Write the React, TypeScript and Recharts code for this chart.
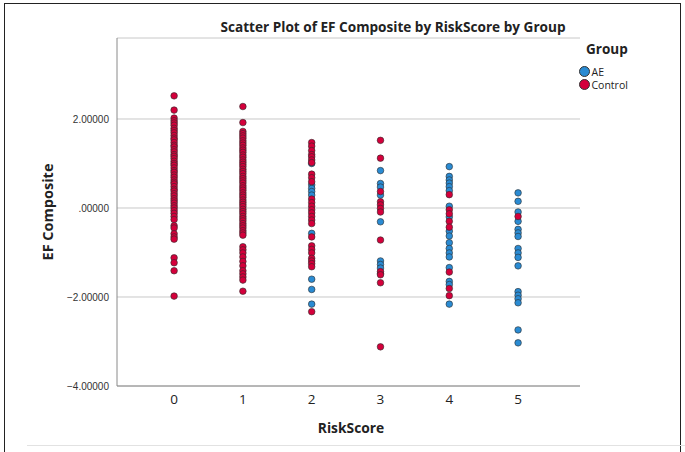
import React from "react";
import { ScatterChart, Scatter, XAxis, YAxis, CartesianGrid } from "recharts";

const riskScores = [0, 1, 2, 3, 4, 5];
const yTicks = [-4, -2, 0, 2];

// AE group values per RiskScore
const ae0: number[] = [];
const ae1: number[] = [];
const ae2 = [1.0, 0.52, 0.44, 0.37, 0.29, -0.57, -1.6, -1.83, -2.16];
const ae3 = [0.84, 0.55, 0.47, 0.29, -0.31, -1.19, -1.27, -1.35, -1.47];
const ae4 = [0.93, 0.71, 0.63, 0.56, 0.48, 0.39, 0.04, -0.2, -0.52, -0.63, -0.78, -0.91, -1.01, -1.1, -1.34, -1.65, -1.72, -2.16];
const ae5 = [0.34, 0.15, -0.09, -0.3, -0.48, -0.56, -0.64, -0.91, -1.01, -1.11, -1.3, -1.88, -1.96, -2.04, -2.13, -2.74, -3.03];

// Control group values per RiskScore
const ctl0 = [2.52, 2.2, 2.02, 1.96, 1.91, 1.86, 1.79, 1.74, 1.69, 1.63, 1.57, 1.53, 1.47, 1.41, 1.37, 1.31, 1.26, 1.2, 1.16, 1.11, 1.05, 1.0, 0.96, 0.9, 0.84, 0.8, 0.74, 0.69, 0.63, 0.58, 0.54, 0.48, 0.42, 0.38, 0.32, 0.27, 0.21, 0.16, 0.11, 0.05, 0.0, -0.06, -0.12, -0.19, -0.26, -0.4, -0.45, -0.58, -0.65, -0.7, -1.12, -1.23, -1.41, -1.98];
const ctl1 = [2.28, 1.92, 1.72, 1.67, 1.62, 1.57, 1.51, 1.46, 1.41, 1.35, 1.3, 1.25, 1.19, 1.14, 1.08, 1.03, 0.98, 0.93, 0.87, 0.82, 0.77, 0.71, 0.66, 0.61, 0.56, 0.5, 0.45, 0.4, 0.34, 0.29, 0.24, 0.18, 0.13, 0.08, 0.03, -0.03, -0.08, -0.13, -0.19, -0.24, -0.29, -0.35, -0.4, -0.45, -0.51, -0.56, -0.61, -0.87, -0.94, -1.01, -1.1, -1.2, -1.3, -1.41, -1.48, -1.55, -1.62, -1.87];
const ctl2 = [1.47, 1.39, 1.29, 1.2, 1.15, 1.08, 1.02, 0.76, 0.68, 0.59, 0.2, 0.12, 0.04, -0.04, -0.11, -0.19, -0.27, -0.35, -0.65, -0.85, -0.93, -1.01, -1.13, -1.19, -1.25, -1.32, -2.33];
const ctl3 = [1.52, 1.12, 0.37, 0.14, 0.07, -0.01, -0.09, -0.72, -1.43, -1.5, -1.68, -3.12];
const ctl4 = [0.3, -0.04, -0.13, -0.3, -0.43, -1.44, -1.81, -1.97];
const ctl5 = [-0.19];

const aeByScore = [ae0, ae1, ae2, ae3, ae4, ae5];
const ctlByScore = [ctl0, ctl1, ctl2, ctl3, ctl4, ctl5];

const toPoints = (groups: number[][]) =>
  riskScores.flatMap((s, i) => groups[i].map((v) => ({ x: s, y: v })));

const aeData = toPoints(aeByScore);
const ctlData = toPoints(ctlByScore);

const AE_COLOR = "#2a8bd3";
const CTL_COLOR = "#d4003b";

const makeDot = (fill: string) => (p: any) =>
  p.cx == null ? null : (
    <circle cx={p.cx} cy={p.cy} r={3.3} fill={fill} stroke="#2b2b2b" strokeWidth={0.6} />
  );

const fmtY = (v: number) => {
  if (v === 0) return ".00000";
  const s = Math.abs(v).toFixed(5);
  return v < 0 ? "\u2212" + s : s;
};

export default function App() {
  return (
    <div
      style={{
        position: "absolute",
        left: 0,
        top: 0,
        width: 685,
        height: 452,
        background: "#fff",
        overflow: "hidden",
      }}
    >
      <div
        style={{
          position: "absolute",
          left: 4,
          top: 3,
          width: 677,
          height: 470,
          border: "1.5px solid #222",
          borderBottom: "none",
          boxSizing: "border-box",
        }}
      />
      <div style={{ position: "absolute", left: 27, top: 445, width: 658, height: 1, background: "#e2e2e2" }} />
      <div style={{ position: "absolute", left: 0, top: 0 }}>
        <ScatterChart width={685} height={452} margin={{ top: 38, right: 105, bottom: 26, left: 57 }}>
          <CartesianGrid horizontal vertical={false} stroke="#c8c8c8" />
          <XAxis
            type="number"
            dataKey="x"
            domain={[-0.83, 5.9]}
            ticks={riskScores}
            allowDataOverflow
            tickLine={false}
            axisLine={{ stroke: "#8a8a8a" }}
            tick={{ fontSize: 13.5, fill: "#222", fontFamily: "Open Sans" }}
            height={40}
          />
          <YAxis
            type="number"
            dataKey="y"
            domain={[-4, 3.82]}
            ticks={yTicks}
            allowDataOverflow
            tickLine={false}
            tickFormatter={fmtY}
            axisLine={{ stroke: "#8a8a8a" }}
            tick={{ fontSize: 10, fill: "#333", fontFamily: "Liberation Sans" }}
            width={60}
          />
          <Scatter name="AE" data={aeData} fill={AE_COLOR} shape={makeDot(AE_COLOR)} isAnimationActive={false} />
          <Scatter name="Control" data={ctlData} fill={CTL_COLOR} shape={makeDot(CTL_COLOR)} isAnimationActive={false} />
        </ScatterChart>
      </div>
      <div
        style={{
          position: "absolute",
          left: 93,
          top: 17,
          width: 600,
          textAlign: "center",
          fontFamily: "Open Sans",
          fontWeight: 700,
          fontSize: 13.6,
          color: "#222",
          whiteSpace: "nowrap",
        }}
      >
        Scatter Plot of EF Composite by RiskScore by Group
      </div>
      <div
        style={{
          position: "absolute",
          left: 47,
          top: 212,
          transform: "translate(-50%, -50%) rotate(-90deg)",
          fontFamily: "Open Sans",
          fontWeight: 700,
          fontSize: 14.5,
          color: "#222",
          whiteSpace: "nowrap",
        }}
      >
        EF Composite
      </div>
      <div
        style={{
          position: "absolute",
          left: 351,
          top: 427,
          transform: "translate(-50%, -50%)",
          fontFamily: "Open Sans",
          fontWeight: 700,
          fontSize: 13.8,
          color: "#222",
          whiteSpace: "nowrap",
        }}
      >
        RiskScore
      </div>
      <div style={{ position: "absolute", left: 586, top: 40, fontFamily: "Open Sans", fontWeight: 700, fontSize: 13.5, color: "#222" }}>
        Group
      </div>
      {[
        { name: "AE", color: AE_COLOR, y: 71.5 },
        { name: "Control", color: CTL_COLOR, y: 84.5 },
      ].map((it) => (
        <div key={it.name} style={{ position: "absolute", left: 578.5, top: it.y - 7, height: 14, display: "flex", alignItems: "center", fontFamily: "Open Sans", fontSize: 10.5, color: "#222" }}>
          <span style={{ display: "inline-block", width: 9, height: 9, borderRadius: "50%", background: it.color, border: "0.6px solid #333", marginRight: 2 }} />
          {it.name}
        </div>
      ))}
    </div>
  );
}
